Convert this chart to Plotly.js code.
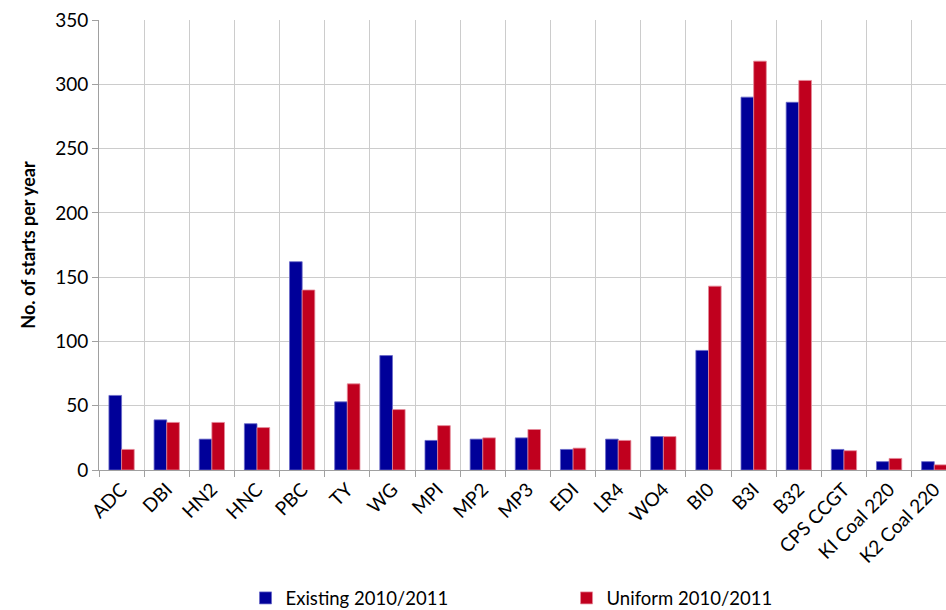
<!DOCTYPE html>
<html>
<head>
<meta charset="utf-8">
<script src="https://cdn.plot.ly/plotly-3.0.1.min.js"></script>
<style>html,body{margin:0;padding:0;background:#fff;overflow:hidden}#chart{width:946px;height:610px}</style>
</head>
<body>
<div id="chart"></div>
<script>
var categories = ["ADC","DB1","HN2","HNC","PBC","TY","WG","MP1","MP2","MP3","ED1","LR4","WO4","B10","B31","B32","CPS CCGT","K1 Coal 220","K2 Coal 220"];
var tickLabels = ["ADC","DBI","HN2","HNC","PBC","TY","WG","MPI","MP2","MP3","EDI","LR4","WO4","BI0","B3I","B32","CPS CCGT","KI Coal 220","K2 Coal 220"];
var existing = [58, 39, 24, 36, 162, 53, 89, 23, 24, 25, 16, 24, 26, 93, 290, 286, 16, 6.5, 6.5];
var uniform  = [16, 37, 37, 33, 140, 67, 47, 34.5, 25, 31.5, 17, 23, 26, 143, 318, 303, 15, 9, 4];
var seriesNames = ["Existing 2010/2011", "Uniform 2010/2011"];

var font = "Lato, 'Open Sans', sans-serif";
var traces = [
  {type:"bar", name:seriesNames[0], x:categories, y:existing, legend:"legend",
   marker:{color:"#000099", line:{color:"#6a6ac8", width:0.8}}},
  {type:"bar", name:seriesNames[1], x:categories, y:uniform, legend:"legend2",
   marker:{color:"#C0001E", line:{color:"#e58a9a", width:0.8}}}
];
var legendBase = {orientation:"h", y:-0.243, yanchor:"top", xanchor:"left",
                  font:{size:18.5, family:font, color:"#000"}, itemwidth:30, bgcolor:"rgba(0,0,0,0)"};
var layout = {
  width:946, height:610,
  margin:{l:99, r:0, t:20, b:140, autoexpand:false},
  paper_bgcolor:"#fff", plot_bgcolor:"#fff",
  font:{family:font, size:19, color:"#000"},
  barmode:"group", bargap:0.44, bargroupgap:0,
  showlegend:true,
  legend:Object.assign({}, legendBase, {x:0.173}),
  legend2:Object.assign({}, legendBase, {x:0.552}),
  xaxis:{type:"category", tickvals:categories, ticktext:tickLabels, tickangle:-45,
         range:[-0.5, 18.26], tickson:"boundaries", ticks:"outside", ticklen:6,
         tickcolor:"#a0a0a0", showgrid:true, gridcolor:"#cccccc", gridwidth:1,
         showline:true, linecolor:"#a0a0a0", linewidth:1, zeroline:false, automargin:false,
         tickfont:{size:19, family:font}, fixedrange:true},
  yaxis:{range:[0,350], dtick:50, ticks:"outside", ticklen:6, tickcolor:"#a0a0a0",
         showgrid:true, gridcolor:"#cccccc", gridwidth:1, showline:true,
         linecolor:"#a0a0a0", linewidth:1, zeroline:false, automargin:false,
         tickfont:{size:19, family:font},
         title:{text:"<b>No. of starts per year</b>", font:{size:18, family:font}, standoff:14}}
};
Plotly.newPlot("chart", traces, layout, {displayModeBar:false, staticPlot:true});
</script>
</body>
</html>
